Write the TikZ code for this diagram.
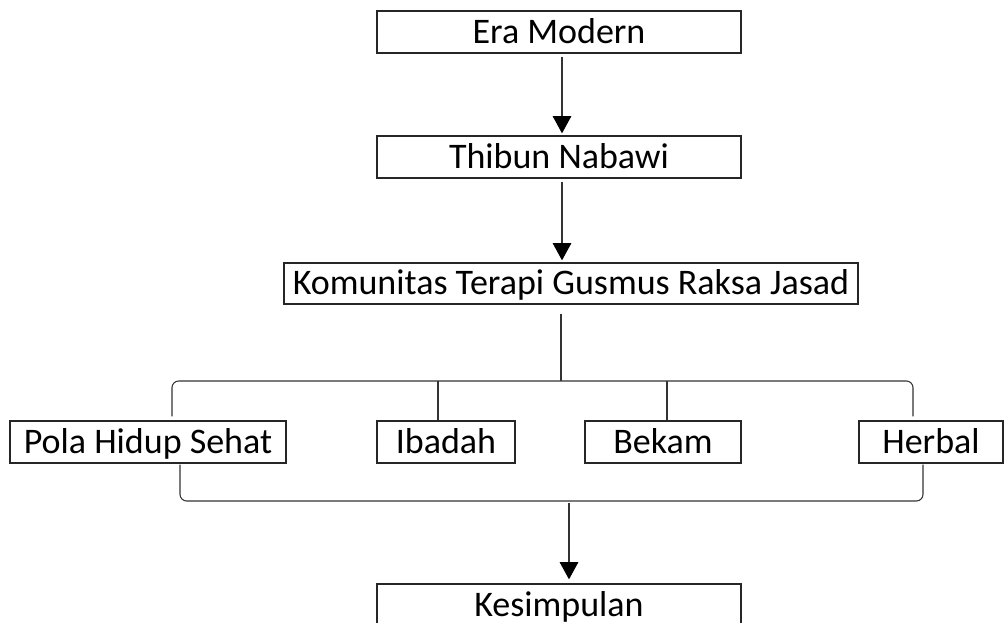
\documentclass[tikz,border=0pt]{standalone}
\usepackage{fontspec}
\setmainfont{Carlito}
\usetikzlibrary{arrows.meta}
\begin{document}
\begin{tikzpicture}[x=0.75pt,y=-0.75pt,
  box/.style={draw=black!85,line width=1pt,inner sep=0pt,anchor=center,
    font=\fontsize{27pt}{30pt}\selectfont,text=black,text height=21pt,text depth=4.5pt},
  conn/.style={draw=black!80,line width=0.8pt},
  arr/.style={conn,-{Triangle[width=14pt,length=13pt,fill=black,color=black]}},
  brk/.style={conn,rounded corners=5pt}]
\useasboundingbox (0,0) rectangle (1005,622);
\node[box,minimum width=364*0.75pt,minimum height=42*0.75pt] (era) at (559,32) {Era Modern};
\node[box,minimum width=364*0.75pt,minimum height=42*0.75pt] (thibun) at (559,157) {Thibun Nabawi};
\node[box,minimum width=574*0.75pt,minimum height=41*0.75pt] (kom) at (571,283.5) {Komunitas Terapi Gusmus Raksa Jasad};
\node[box,minimum width=276*0.75pt,minimum height=42*0.75pt] (pola) at (148,442) {Pola Hidup Sehat};
\node[box,minimum width=138*0.75pt,minimum height=42*0.75pt] (ibadah) at (446,442) {Ibadah};
\node[box,minimum width=156*0.75pt,minimum height=42*0.75pt] (bekam) at (663,442) {Bekam};
\node[box,minimum width=144*0.75pt,minimum height=42*0.75pt] (herbal) at (931,442) {Herbal};
\node[box,minimum width=364*0.75pt,minimum height=42*0.75pt] (kes) at (559,605) {Kesimpulan};
\coordinate (tl) at (172,381);
\coordinate (tr) at (913,381);
\coordinate (tm) at (561,381);
\coordinate (bl) at (180,501);
\coordinate (br) at (923,501);
\coordinate (bm) at (569,501);
\draw[arr] ([xshift=2.25pt,yshift=-2.25pt]era.south) -- ([xshift=2.25pt,yshift=1.5pt]thibun.north);
\draw[arr] ([xshift=2.25pt,yshift=-2.25pt]thibun.south) -- ([xshift=2.25pt,yshift=1.5pt]kom.north -| thibun.north);
\draw[conn] ([yshift=-7pt]kom.south -| tm) -- (tm);
\draw[brk] ([yshift=3pt]pola.north -| tl) -- (tl) -- (tr) -- ([yshift=3pt]herbal.north -| tr);
\draw[conn] (tl -| 438,0) -- (ibadah.north -| 438,0);
\draw[conn] (tl -| 667,0) -- (bekam.north -| 667,0);
\draw[brk] ([yshift=-0.75pt]pola.south -| bl) -- (bl) -- (br) -- ([yshift=-0.75pt]herbal.south -| br);
\draw[arr] ([yshift=-1.5pt]bm) -- ([yshift=3pt]kes.north -| bm);
\end{tikzpicture}
\end{document}
